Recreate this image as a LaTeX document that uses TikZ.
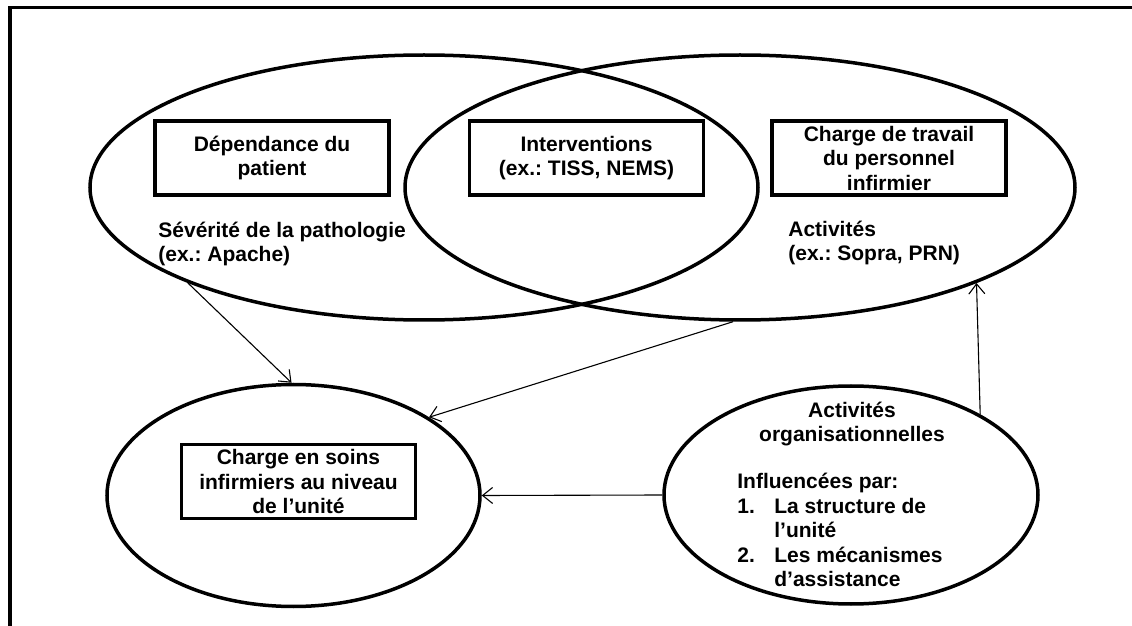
\documentclass[tikz,border=0pt]{standalone}
\usepackage{fontspec}
\setmainfont{Liberation Sans}
\usepackage{tikz}
\usetikzlibrary{shapes.geometric,arrows.meta}
\frenchspacing

\begin{document}
\begin{tikzpicture}[x=0.5pt,y=-0.5pt,
    font=\fontsize{10.5pt}{12.25pt}\selectfont\bfseries,
    ell_node/.style={ellipse,draw,line width=1.75pt,inner sep=0pt},
    box_node/.style={rectangle,draw,line width=1.6pt,inner sep=0pt,minimum width=117pt,minimum height=37pt,align=center},
    txt_node/.style={inner sep=0pt,align=left},
    link/.style={line width=0.55pt,-{Straight Barb[length=5pt,width=8pt]}}]
    \useasboundingbox (0,0) rectangle (1132,626);
    \draw[line width=1.9pt] (10,626) -- (10,7.5) -- (1132,7.5);
	\node[ell_node,minimum width=334pt,minimum height=132.5pt] (1) at (424,187.5) {};
    \node[ell_node,minimum width=335pt,minimum height=132.5pt] (2) at (740,187.5) {};
    \node[ell_node,minimum width=186.5pt,minimum height=111pt] (3) at (293.5,495.5) {};
    \node[ell_node,minimum width=187pt,minimum height=109pt] (4) at (851,495) {};
    \node[box_node] (5) at (272,158) {Dépendance du\\patient};
    \node[box_node] (6) at (586.5,158) {Interventions\\(ex.: TISS, NEMS)};
    \node[box_node] (7) at (889,158) {Charge de travail\\du personnel\\infirmier};
    \node[box_node] (8) at (298.5,481.5) {Charge en soins\\infirmiers au niveau\\de l’unité};
    \node[txt_node,anchor=west] (9) at (158,244) {Sévérité de la pathologie\\(ex.: Apache)};
    \node[txt_node,anchor=west] (10) at (788,243) {Activités\\(ex.: Sopra, PRN)};
    \node[txt_node,align=center] (11) at (852,424) {Activités\\organisationnelles};
    \node[txt_node,anchor=west] (12) at (737,533) {\begin{tabular}{@{}l@{}l@{}}
        \multicolumn{2}{@{}l@{}}{Influencées par:}\\
        \makebox[18.5pt][l]{1.} & La structure de\\
         & l’unité\\
        2. & Les mécanismes\\
         & d’assistance
    \end{tabular}};
\draw[link] (1.202.6) -- (3.91);
\draw[link] (2.267) -- (3.30.6);
\draw[link] (4.180) -- (3.0);
\draw[link] (4.32) -- (2.338.1);
\end{tikzpicture}
\end{document}
